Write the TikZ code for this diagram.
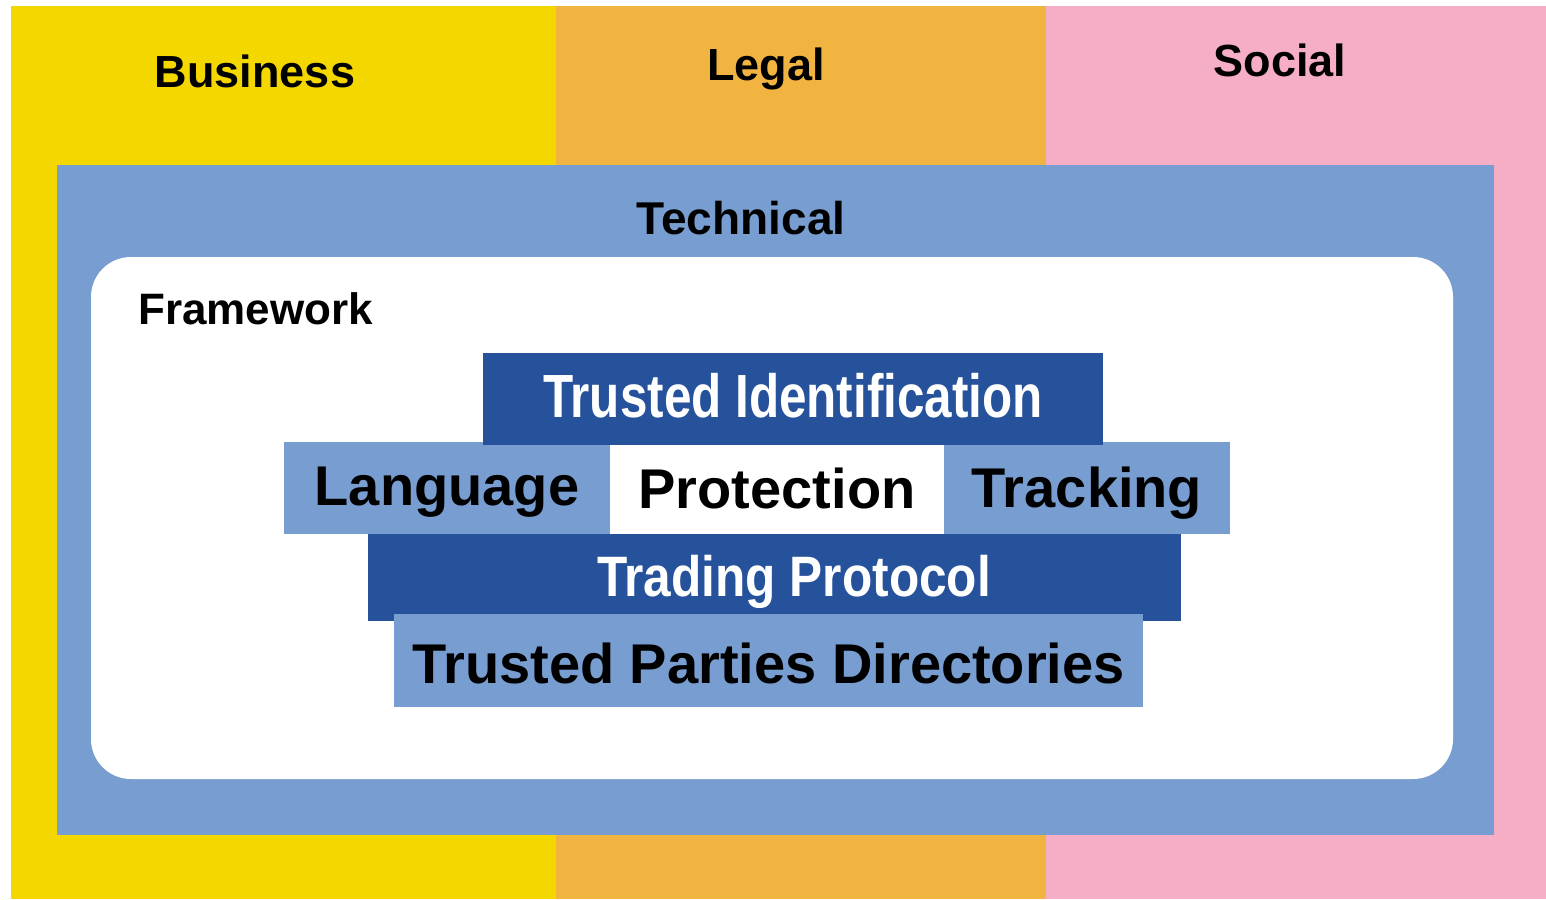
\documentclass[tikz,border=0pt]{standalone}
\usepackage{fontspec}
\setmainfont{Liberation Sans}
\newfontfamily\narrowfont[FakeStretch=0.81]{Liberation Sans}
\newfontfamily\semifont[FakeStretch=0.87]{Liberation Sans}
\definecolor{bizyellow}{HTML}{F5D700}
\definecolor{legalorange}{HTML}{F2B441}
\definecolor{socialpink}{HTML}{F6AEC6}
\definecolor{techblue}{HTML}{789DD0}
\definecolor{darkblue}{HTML}{26529C}
\begin{document}
\begin{tikzpicture}[x=1pt,y=-1pt,
  lightblock/.style={fill=techblue, inner sep=0pt, text depth=0pt, font=\fontsize{56}{60}\selectfont\bfseries},
  darkblock/.style={fill=darkblue, text=white, inner sep=0pt, text depth=0pt, font=\fontsize{61}{64}\narrowfont\bfseries},
  title/.style={inner sep=0pt, anchor=base, font=\fontsize{45}{52}\selectfont\bfseries}]
\useasboundingbox (0,0) rectangle (1546,899);
\fill [bizyellow] (11,6) rectangle (556,899);
\fill [legalorange] (556,6) rectangle (1046,899);
\fill [socialpink] (1046,6) rectangle (1546,899);
\fill [techblue] (57,165) rectangle (1494,835);
\fill [white, rounded corners=40] (91,257) rectangle (1453,779);

\node [title] (business) at (255,87) {Business};
\node [title] (legal) at (766,81) {Legal};
\node [title] (social) at (1280,77) {Social};
\node [title, font=\fontsize{46}{52}\selectfont\bfseries] (technical) at (741,234) {Technical};
\node [title, anchor=base west, font=\fontsize{44}{52}\selectfont\bfseries] (framework) at (138,324) {Framework};

\node [lightblock, text height=34pt, minimum width=326pt, minimum height=92pt] (language) at (447,488) {Language};
\node [lightblock, fill=white, text height=40pt, minimum width=334pt, minimum height=92pt] (protection) at (777,488) {Protection};
\node [lightblock, text height=38pt, minimum width=286pt, minimum height=92pt] (tracking) at (1087,488) {Tracking};
\node [darkblock, text height=36pt, minimum width=620pt, minimum height=92pt] (ident) at (793,399) {Trusted Identification};
\node [darkblock, minimum width=813pt, minimum height=87pt] (trading) at (774.5,577.5) {};
\node [darkblock, fill=none, anchor=base, font=\fontsize{57}{60}\semifont\bfseries] (tradinglabel) at (794,596) {Trading Protocol};
\node [lightblock, text height=45pt, minimum width=749pt, minimum height=93pt] (parties) at (768.5,660.5) {Trusted Parties Directories};
\end{tikzpicture}
\end{document}
